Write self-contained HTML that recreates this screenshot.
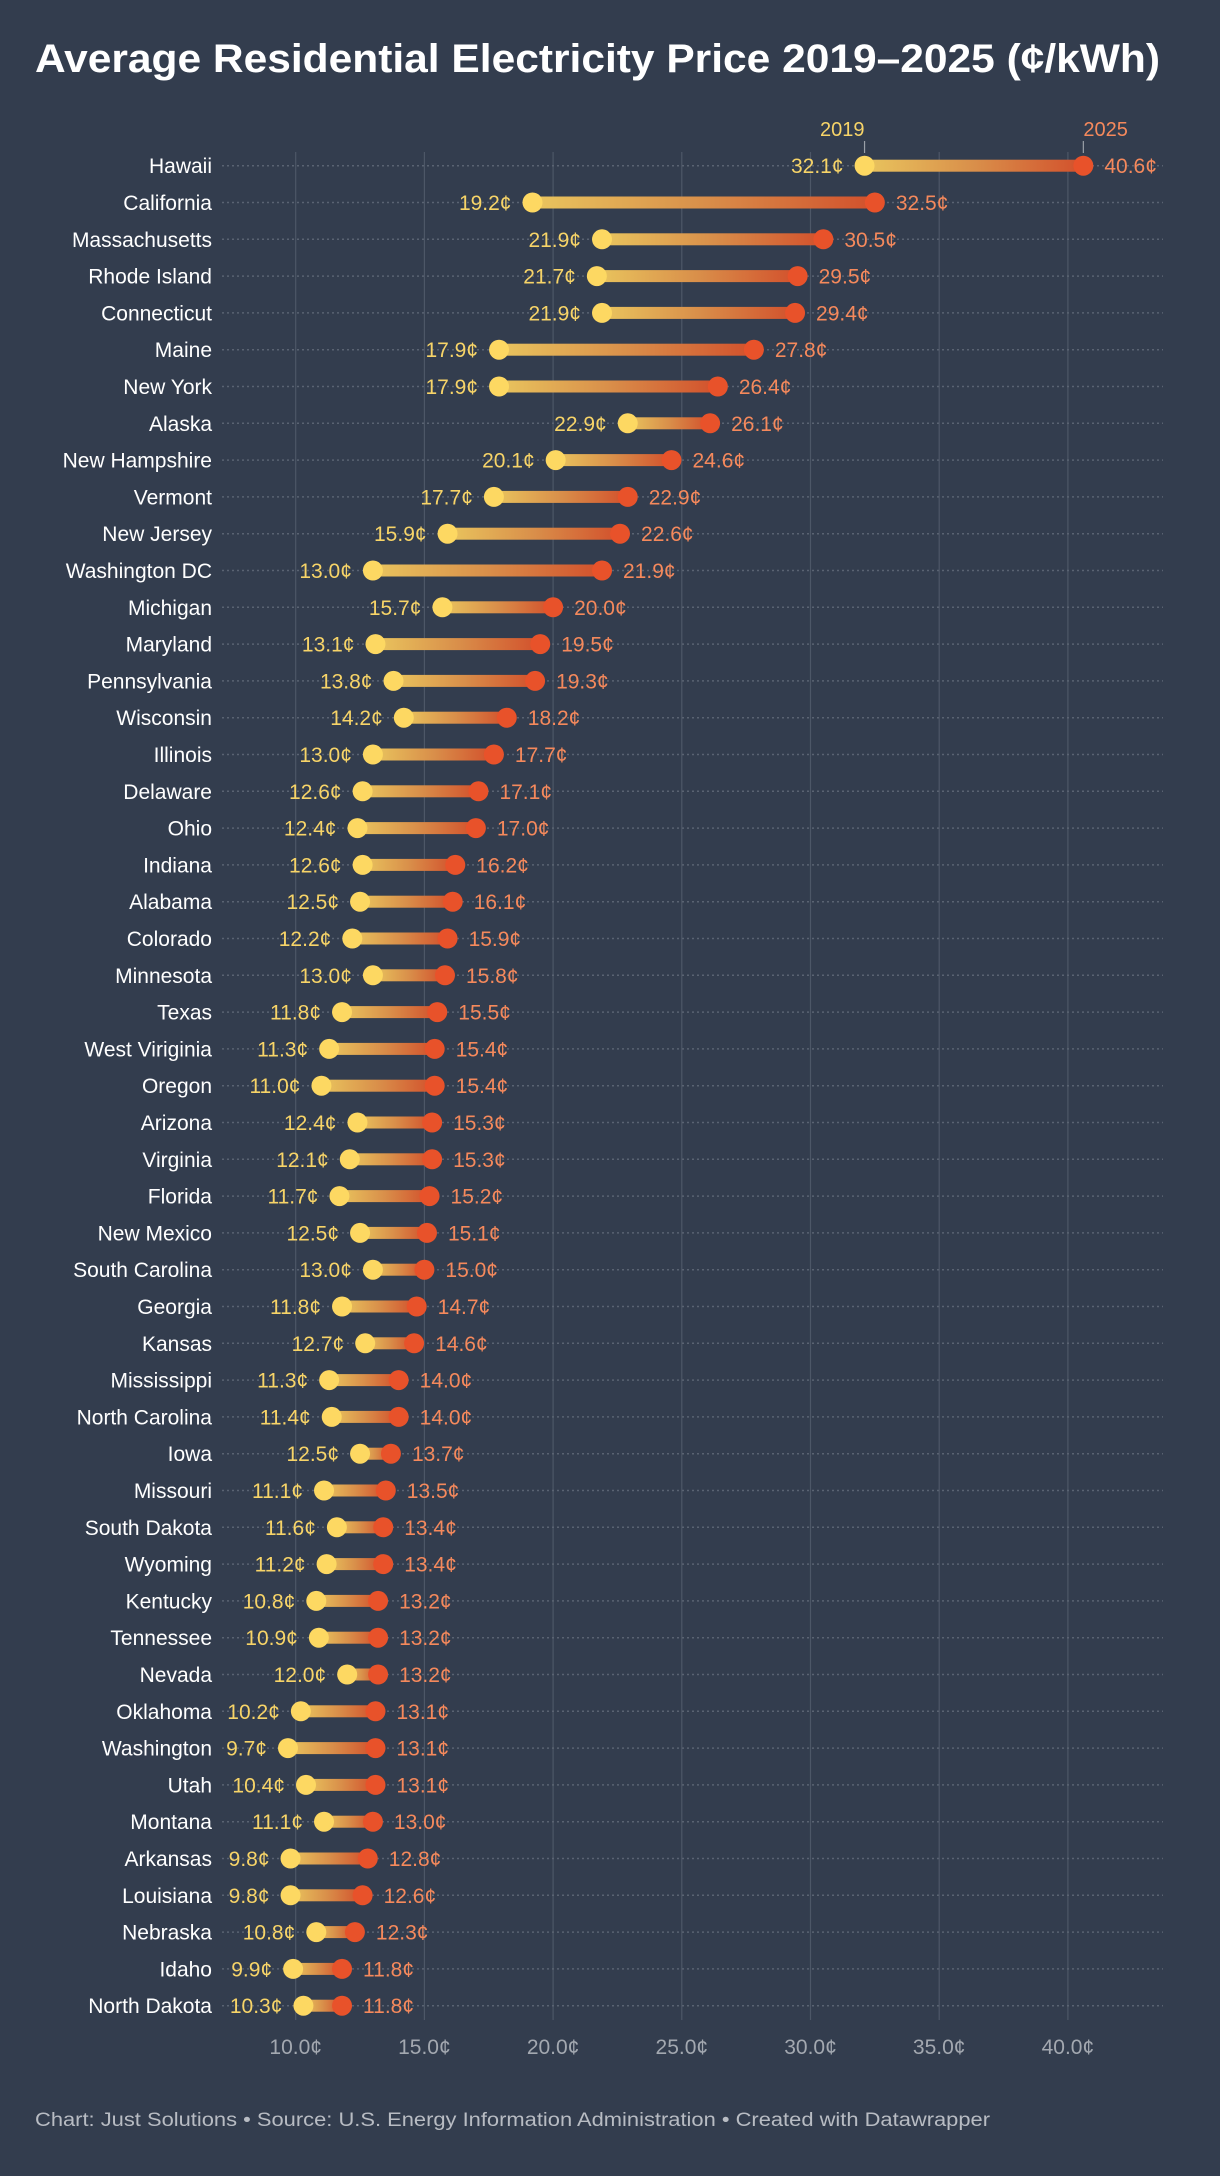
<!DOCTYPE html>
<html><head><meta charset="utf-8">
<style>
html,body{margin:0;padding:0;background:#333d4e;}
svg{display:block;font-family:"Liberation Sans",sans-serif;}
</style></head>
<body>
<svg id="chart" width="1220" height="2176" viewBox="0 0 1220 2176" xmlns="http://www.w3.org/2000/svg">
<defs>
<linearGradient id="bargrad" x1="0" x2="1" y1="0" y2="0">
<stop offset="0" stop-color="#e9c55e"/>
<stop offset="0.5" stop-color="#d98f4a"/>
<stop offset="1" stop-color="#d2502c"/>
</linearGradient>
</defs>
<rect width="1220" height="2176" fill="#333d4e"/>
<text x="35" y="72" font-size="40" font-weight="bold" fill="#ffffff" textLength="1125" lengthAdjust="spacingAndGlyphs">Average Residential Electricity Price 2019–2025 (¢/kWh)</text>
<g id="grid"></g>
<g id="rows"></g>
<g id="axis"></g>
<text x="35" y="2126" font-size="19" fill="#b8bcc3" textLength="955" lengthAdjust="spacingAndGlyphs">Chart: Just Solutions • Source: U.S. Energy Information Administration • Created with Datawrapper</text>
</svg>
<script>
const states = ["Hawaii","California","Massachusetts","Rhode Island","Connecticut","Maine","New York","Alaska","New Hampshire","Vermont","New Jersey","Washington DC","Michigan","Maryland","Pennsylvania","Wisconsin","Illinois","Delaware","Ohio","Indiana","Alabama","Colorado","Minnesota","Texas","West Viriginia","Oregon","Arizona","Virginia","Florida","New Mexico","South Carolina","Georgia","Kansas","Mississippi","North Carolina","Iowa","Missouri","South Dakota","Wyoming","Kentucky","Tennessee","Nevada","Oklahoma","Washington","Utah","Montana","Arkansas","Louisiana","Nebraska","Idaho","North Dakota"];
const price2019 = [32.1,19.2,21.9,21.7,21.9,17.9,17.9,22.9,20.1,17.7,15.9,13.0,15.7,13.1,13.8,14.2,13.0,12.6,12.4,12.6,12.5,12.2,13.0,11.8,11.3,11.0,12.4,12.1,11.7,12.5,13.0,11.8,12.7,11.3,11.4,12.5,11.1,11.6,11.2,10.8,10.9,12.0,10.2,9.7,10.4,11.1,9.8,9.8,10.8,9.9,10.3];
const price2025 = [40.6,32.5,30.5,29.5,29.4,27.8,26.4,26.1,24.6,22.9,22.6,21.9,20.0,19.5,19.3,18.2,17.7,17.1,17.0,16.2,16.1,15.9,15.8,15.5,15.4,15.4,15.3,15.3,15.2,15.1,15.0,14.7,14.6,14.0,14.0,13.7,13.5,13.4,13.4,13.2,13.2,13.2,13.1,13.1,13.1,13.0,12.8,12.6,12.3,11.8,11.8];
const ticks = [10,15,20,25,30,35,40];

const NS = "http://www.w3.org/2000/svg";
const x = v => 295.7 + (v - 10) * 25.74;
const yRow = i => 165.7 + i * 36.8;
function mk(tag, attrs, parent, txt){
  const e = document.createElementNS(NS, tag);
  for (const k in attrs) e.setAttribute(k, attrs[k]);
  if (txt !== undefined) e.textContent = txt;
  parent.appendChild(e);
  return e;
}
const grid = document.getElementById('grid');
const axis = document.getElementById('axis');
const rows = document.getElementById('rows');
ticks.forEach(t => {
  const l = mk('line', {x1:x(t), x2:x(t), y1:152, y2:2020, stroke:'#4d5767', 'stroke-width':1.2}, grid);
  
  
  const tx = mk('text', {x:x(t), y:2054, 'font-size':21, fill:'#a3a8b0', 'text-anchor':'middle'}, axis, t.toFixed(1) + '¢');
  
  
});
const lg1 = mk('text', {x:x(price2019[0]), y:136, 'font-size':20, fill:'#f7d468', 'text-anchor':'end'}, axis, '2019');


const lg2 = mk('text', {x:x(price2025[0]), y:136, 'font-size':20, fill:'#f5895c', 'text-anchor':'start'}, axis, '2025');


mk('line', {x1:x(price2019[0]), x2:x(price2019[0]), y1:141, y2:153, stroke:'#9aa0a8', 'stroke-width':1.2}, axis);
mk('line', {x1:x(price2025[0]), x2:x(price2025[0]), y1:141, y2:153, stroke:'#9aa0a8', 'stroke-width':1.2}, axis);

states.forEach((s, i) => {
  const y = yRow(i);
  const g = mk('g', {}, rows);
  
  
  mk('line', {x1:222, x2:1163, y1:y, y2:y, stroke:'#5a6372', 'stroke-width':1.5, 'stroke-dasharray':'2 3'}, g);
  const lab = mk('text', {x:212, y:y + 7.5, 'font-size':21, fill:'#ffffff', 'text-anchor':'end'}, g, s);
  
  
  const a = x(price2019[i]), b = x(price2025[i]);
  const bar = mk('rect', {x:a, y:y - 6, width:Math.max(0, b - a), height:12, fill:'url(#bargrad)'}, g);
  
  
  const d1 = mk('circle', {cx:a, cy:y, r:10, fill:'#fdd862'}, g);
  
  
  const d2 = mk('circle', {cx:b, cy:y, r:10, fill:'#e8522a'}, g);
  
  
  const v1 = mk('text', {x:a - 21, y:y + 7.5, 'font-size':21, fill:'#f7d468', 'text-anchor':'end'}, g, price2019[i].toFixed(1) + '¢');
  
  
  const v2 = mk('text', {x:b + 21, y:y + 7.5, 'font-size':21, fill:'#f5895c', 'text-anchor':'start'}, g, price2025[i].toFixed(1) + '¢');
  
  
});
</script>
</body></html>
